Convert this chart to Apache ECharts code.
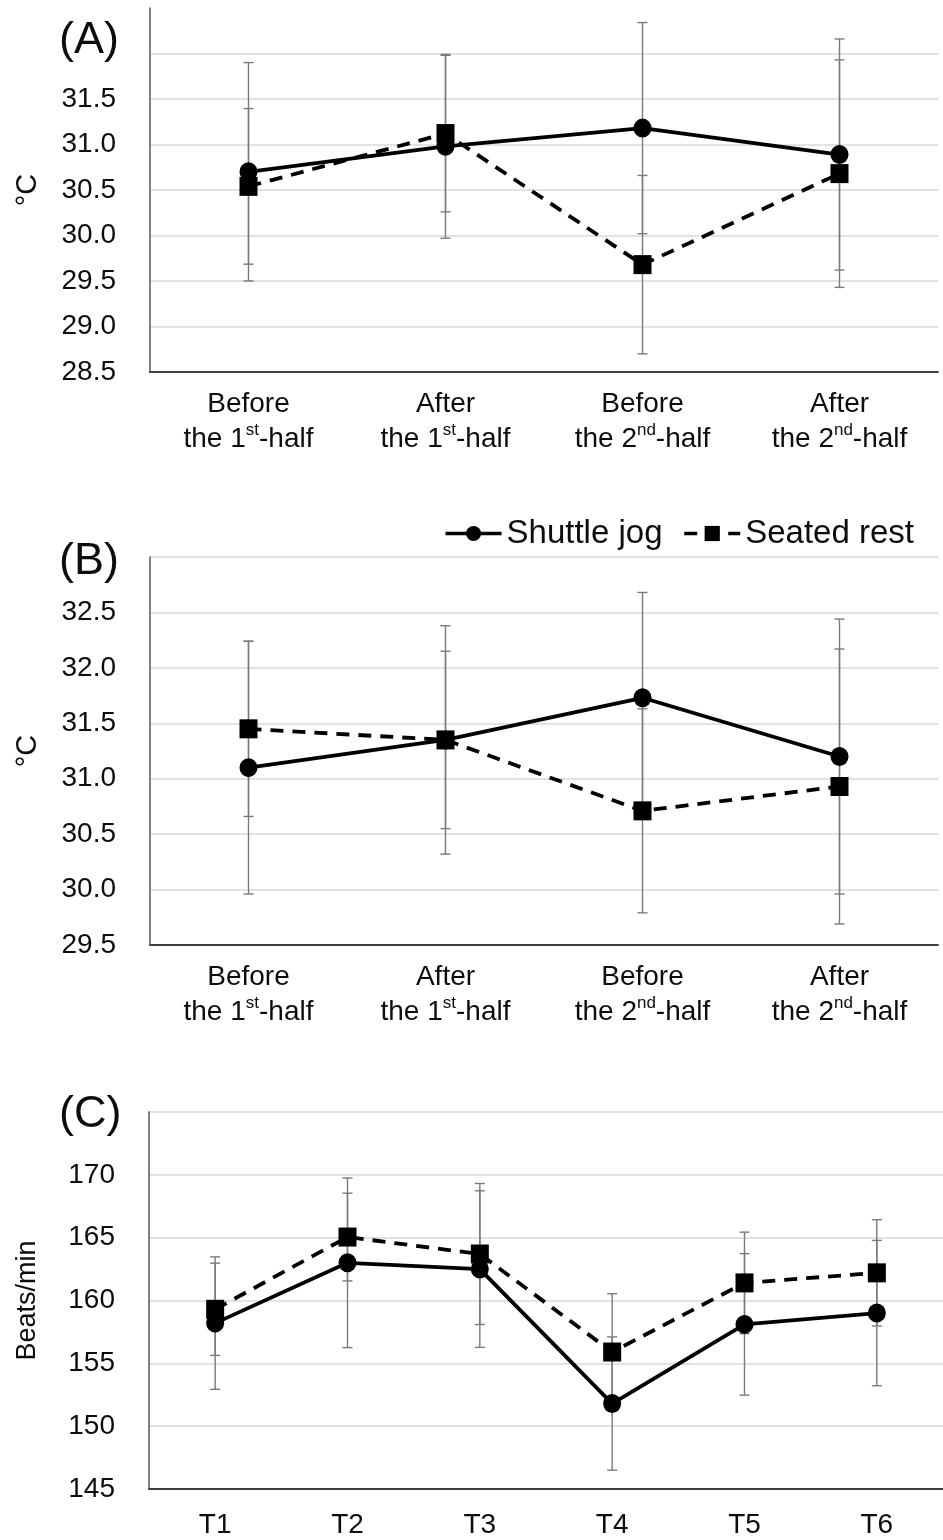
<!DOCTYPE html>
<html>
<head>
<meta charset="utf-8">
<script src="https://cdn.jsdelivr.net/npm/echarts@6/dist/echarts.min.js"></script>
<style>
html,body{margin:0;padding:0;background:#fff;}
#chart{width:943px;height:1540px;}
</style>
</head>
<body>
<div id="chart"></div>
<script>
// ---------- data ----------
const seriesNames = ['Shuttle jog', 'Seated rest'];
const catAB = ['Before the 1st-half', 'After the 1st-half', 'Before the 2nd-half', 'After the 2nd-half'];
const catC = ['T1', 'T2', 'T3', 'T4', 'T5', 'T6'];

// Panel A (°C)
const jogA = [30.70, 30.98, 31.18, 30.89];
const jogAsd = [1.20, 1.01, 1.16, 1.27];
const restA = [30.54, 31.12, 29.68, 30.68];
const restAsd = [0.855, 0.86, 0.98, 1.25];

// Panel B (°C)
const jogB = [31.10, 31.35, 31.73, 31.20];
const jogBsd = [1.14, 1.03, 0.95, 1.24];
const restB = [31.45, 31.35, 30.71, 30.93];
const restBsd = [0.79, 0.80, 0.92, 1.24];

// Panel C (beats/min)
const jogC = [158.2, 163.0, 162.5, 151.8, 158.1, 159.0];
const jogCsd = [5.27, 6.75, 6.23, 5.30, 5.63, 5.78];
const restC = [159.3, 165.05, 163.7, 155.9, 161.4, 162.2];
const restCsd = [3.67, 3.49, 5.61, 4.64, 4.04, 4.23];

// y-axis tick settings
const yA = {min: 28.5, max: 32.5, interval: 0.5, labelMax: 31.5};
const yB = {min: 29.5, max: 33.0, interval: 0.5, labelMax: 32.5};
const yC = {min: 145, max: 175, interval: 5, labelMax: 170};

// ---------- styling ----------
const FONT = 'Liberation Sans, Arial, sans-serif';
const TXT = '#0d0d0d';
const FS = 28;

function catFormatter(v) {
  const m = v.match(/^(\S+) the (\d)(st|nd|rd|th)(-half)$/);
  if (!m) return v;
  return '{n|' + m[1] + '}\n{n|the ' + m[2] + '}{s|' + m[3] + '}{n|' + m[4] + '}';
}
const richLabel = {
  n: {fontSize: FS, fontFamily: FONT, color: TXT, lineHeight: 35},
  s: {fontSize: 17, fontFamily: FONT, color: TXT, lineHeight: 21, verticalAlign: 'top'}
};

function xAxisFor(idx, cats, rich, margin) {
  return {
    type: 'category', gridIndex: idx, data: cats,
    axisLine: {lineStyle: {color: '#404040', width: 2}},
    axisTick: {show: false},
    axisLabel: rich ? {interval: 0, margin: margin, formatter: catFormatter, rich: richLabel, color: TXT}
                    : {interval: 0, margin: margin, fontSize: FS, fontFamily: FONT, color: TXT}
  };
}
function yAxisFor(idx, cfg, name, nameSize, showMax) {
  return {
    type: 'value', gridIndex: idx, min: cfg.min, max: cfg.max, interval: cfg.interval,
    name: name, nameLocation: 'middle', nameGap: 108,
    nameTextStyle: {fontSize: nameSize, fontFamily: FONT, color: TXT},
    axisLine: {show: true, lineStyle: {color: '#595959', width: 1.5}},
    axisTick: {show: false},
    axisLabel: {
      margin: 34, fontSize: FS, fontFamily: FONT, color: TXT,
      formatter: function (v) {
        if (v > cfg.labelMax + 1e-9) return '';
        return cfg.interval < 1 ? v.toFixed(1) : String(v);
      }
    },
    splitLine: {show: true, showMaxLine: showMax, lineStyle: {color: '#d9d9d9', width: 1.5}}
  };
}

function lineSeries(name, idx, data, dashed) {
  return {
    name: name, type: 'line', xAxisIndex: idx, yAxisIndex: idx, data: data,
    symbol: dashed ? 'rect' : 'circle', symbolSize: [18, 19],
    itemStyle: {color: '#000'},
    lineStyle: {color: '#000', width: 3.8, type: dashed ? [13, 9] : 'solid'},
    z: 5, animation: false
  };
}
function errSeries(idx, vals, sds) {
  return {
    type: 'custom', xAxisIndex: idx, yAxisIndex: idx, z: 2, animation: false, silent: true,
    data: vals.map((v, i) => [i, v, sds[i]]),
    encode: {x: 0, y: 1},
    renderItem: function (params, api) {
      const x = api.value(0), v = api.value(1), e = api.value(2);
      const top = api.coord([x, v + e]);
      const bot = api.coord([x, v - e]);
      const hw = 5;
      const st = {stroke: '#7a7a7a', lineWidth: 1.4};
      return {
        type: 'group',
        children: [
          {type: 'line', shape: {x1: top[0], y1: top[1], x2: bot[0], y2: bot[1]}, style: st},
          {type: 'line', shape: {x1: top[0] - hw, y1: top[1], x2: top[0] + hw, y2: top[1]}, style: st},
          {type: 'line', shape: {x1: bot[0] - hw, y1: bot[1], x2: bot[0] + hw, y2: bot[1]}, style: st}
        ]
      };
    }
  };
}

const chart = echarts.init(document.getElementById('chart'), null, {renderer: 'canvas'});
const titleStyle = {fontSize: 45, fontWeight: 'normal', fontFamily: FONT, color: TXT};
chart.setOption({
  backgroundColor: '#fff',
  animation: false,
  title: [
    {text: '(A)', left: 54, top: 13, textStyle: titleStyle},
    {text: '(B)', left: 54, top: 534, textStyle: titleStyle},
    {text: '(C)', left: 54, top: 1087, textStyle: titleStyle}
  ],
  legend: {
    data: seriesNames, top: 512, right: 24, itemWidth: 56, itemHeight: 19, itemGap: 20,
    lineStyle: {width: 3.5},
    textStyle: {fontSize: 33, fontFamily: FONT, color: TXT}
  },
  grid: [
    {left: 150, top: 8, width: 788, height: 364},
    {left: 150, top: 557, width: 788, height: 388},
    {left: 149, top: 1112, width: 799, height: 377}
  ],
  xAxis: [
    xAxisFor(0, catAB, true, 15),
    xAxisFor(1, catAB, true, 15),
    xAxisFor(2, catC, false, 22)
  ],
  yAxis: [
    yAxisFor(0, yA, '°C', 29, false),
    yAxisFor(1, yB, '°C', 29, true),
    yAxisFor(2, yC, 'Beats/min', 27, true)
  ],
  series: [
    errSeries(0, jogA, jogAsd), errSeries(0, restA, restAsd),
    errSeries(1, jogB, jogBsd), errSeries(1, restB, restBsd),
    errSeries(2, jogC, jogCsd), errSeries(2, restC, restCsd),
    lineSeries(seriesNames[0], 0, jogA, false), lineSeries(seriesNames[1], 0, restA, true),
    lineSeries(seriesNames[0], 1, jogB, false), lineSeries(seriesNames[1], 1, restB, true),
    lineSeries(seriesNames[0], 2, jogC, false), lineSeries(seriesNames[1], 2, restC, true)
  ]
});
</script>
</body>
</html>
